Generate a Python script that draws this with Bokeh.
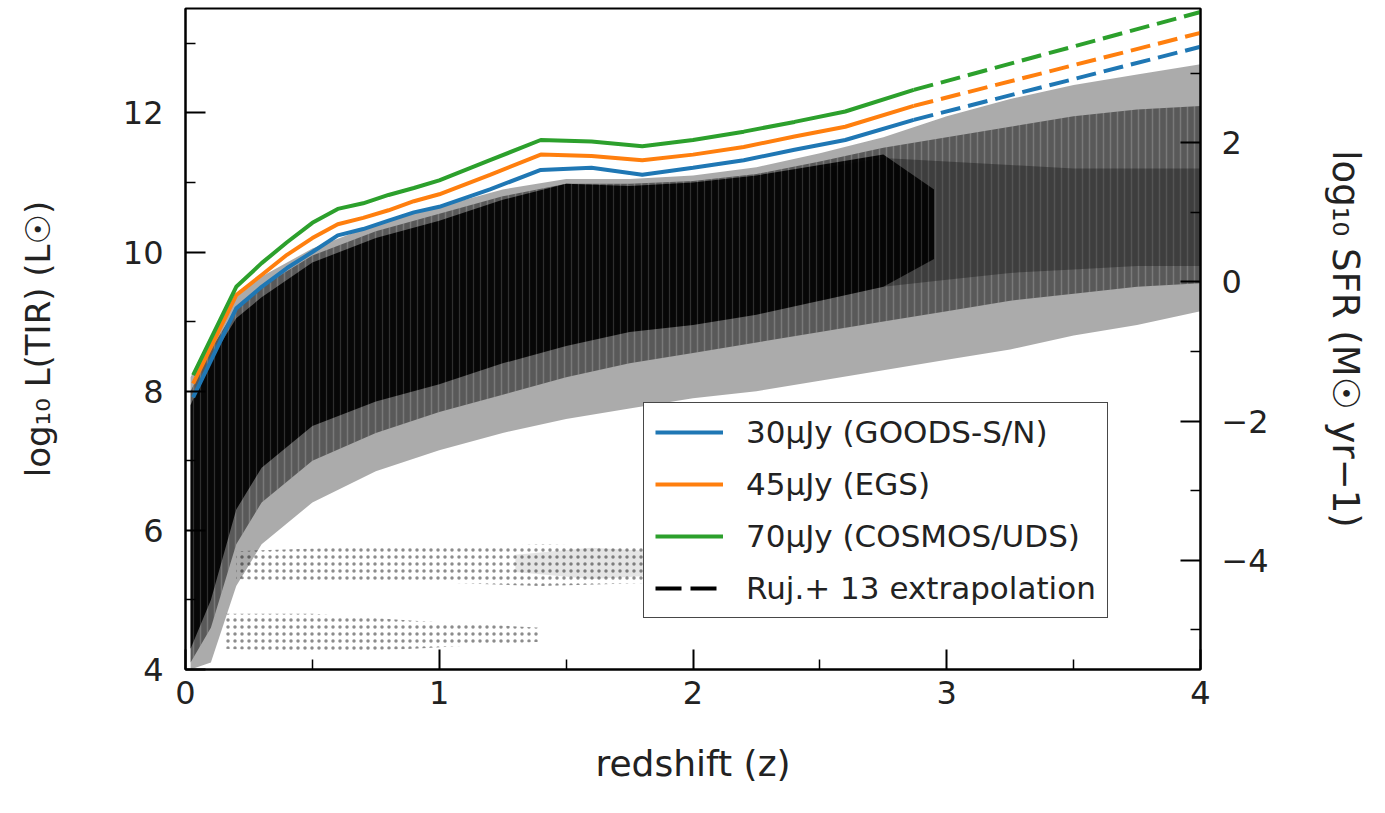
from bokeh.plotting import figure
from bokeh.models import Range1d, LinearAxis, FixedTicker, Legend, LegendItem
from bokeh.embed import file_html
from bokeh.resources import INLINE

# ---------------- data ----------------
# limiting-flux curves: redshift vs log10 L(TIR)
z_line = [0.03, 0.2, 0.3, 0.4, 0.5, 0.6, 0.7, 0.8, 0.9, 1.0, 1.2, 1.4, 1.6, 1.8, 2.0, 2.2, 2.4, 2.6, 2.87]
L_30 = [7.91, 9.19, 9.5, 9.77, 10.0, 10.24, 10.33, 10.45, 10.57, 10.65, 10.9, 11.18, 11.21, 11.11, 11.21, 11.32, 11.47, 11.61, 11.9]
L_45 = [8.11, 9.38, 9.67, 9.96, 10.2, 10.4, 10.49, 10.6, 10.73, 10.83, 11.11, 11.4, 11.38, 11.32, 11.4, 11.51, 11.66, 11.8, 12.1]
L_70 = [8.23, 9.5, 9.84, 10.14, 10.42, 10.62, 10.7, 10.82, 10.92, 11.03, 11.32, 11.61, 11.59, 11.52, 11.61, 11.73, 11.87, 12.02, 12.33]

# Rujopakarn+13 extrapolation
z_ext = [2.87, 4.0]
L_30_ext = [11.9, 12.95]
L_45_ext = [12.1, 13.15]
L_70_ext = [12.33, 13.45]

labels = ["30μJy (GOODS-S/N)", "45μJy (EGS)", "70μJy (COSMOS/UDS)", "Ruj.+ 13 extrapolation"]
colors = ["#1f77b4", "#ff7f0e", "#2ca02c", "black"]

# galaxy cloud density envelopes (log10 L(TIR) bounds per redshift)
z_grid = [0.02, 0.1, 0.2, 0.3, 0.5, 0.75, 1.0, 1.25, 1.5, 1.75, 2.0, 2.25, 2.5, 2.75, 3.0, 3.25, 3.5, 3.75, 4.0]
halo_lo = [4.0, 4.1, 5.2, 5.8, 6.4, 6.85, 7.15, 7.4, 7.6, 7.75, 7.9, 8.0, 8.15, 8.3, 8.45, 8.6, 8.8, 8.95, 9.15]
halo_hi = [8.2, 8.8, 9.35, 9.65, 10.05, 10.4, 10.65, 10.9, 11.05, 11.05, 11.1, 11.22, 11.42, 11.65, 11.95, 12.2, 12.4, 12.55, 12.7]
mid_lo = [4.1, 4.6, 5.8, 6.4, 7.0, 7.4, 7.7, 7.95, 8.2, 8.4, 8.55, 8.7, 8.85, 9.0, 9.15, 9.3, 9.4, 9.5, 9.55]
mid_hi = [8.0, 8.6, 9.2, 9.5, 9.95, 10.3, 10.55, 10.8, 10.98, 10.98, 11.02, 11.12, 11.3, 11.5, 11.65, 11.8, 11.95, 12.05, 12.1]
z_core = [0.02, 0.1, 0.2, 0.3, 0.5, 0.75, 1.0, 1.25, 1.5, 1.75, 2.0, 2.25, 2.5, 2.75, 2.95]
core_lo = [4.3, 5.0, 6.3, 6.9, 7.5, 7.85, 8.1, 8.4, 8.65, 8.85, 8.95, 9.1, 9.3, 9.5, 9.9]
core_hi = [7.8, 8.45, 9.05, 9.35, 9.85, 10.2, 10.45, 10.75, 10.98, 10.95, 11.0, 11.1, 11.25, 11.4, 10.9]
z_deep = [2.5, 2.75, 3.0, 3.25, 3.5, 3.75, 4.0]
deep_lo = [9.3, 9.5, 9.6, 9.7, 9.75, 9.8, 9.8]
deep_hi = [11.2, 11.35, 11.3, 11.25, 11.2, 11.2, 11.2]

# sparse populations
z_band1 = [0.2, 0.6, 1.0, 1.4, 1.9]
band1_lo = [5.3, 5.25, 5.25, 5.2, 5.25]
band1_hi = [5.7, 5.75, 5.75, 5.8, 5.75]
z_band1d = [1.3, 1.6, 1.85]
band1d_lo = [5.4, 5.3, 5.35]
band1d_hi = [5.65, 5.75, 5.7]
z_band2 = [0.15, 0.5, 0.9, 1.4]
band2_lo = [4.3, 4.25, 4.3, 4.4]
band2_hi = [4.8, 4.8, 4.7, 4.6]

SFR_OFFSET = 9.57  # log10 SFR = log10 L(TIR) - offset

# ---------------- figure ----------------
FONT = "DejaVu Sans"
p = figure(width=1369, height=797, x_range=Range1d(0, 4), y_range=Range1d(4, 13.5),
           output_backend="svg", toolbar_location=None,
           min_border_left=185, min_border_right=165, min_border_top=8, min_border_bottom=128)
p.grid.visible = False
p.outline_line_color = "black"
p.outline_line_width = 2
p.background_fill_color = "white"

# cloud
p.varea(x=z_band2, y1=band2_lo, y2=band2_hi, fill_alpha=0,
        hatch_pattern="dot", hatch_color="black", hatch_alpha=0.45, hatch_scale=7, hatch_weight=1.6)
p.varea(x=z_band1, y1=band1_lo, y2=band1_hi, fill_alpha=0,
        hatch_pattern="dot", hatch_color="black", hatch_alpha=0.45, hatch_scale=7, hatch_weight=1.6)
p.varea(x=z_band1d, y1=band1d_lo, y2=band1d_hi, fill_color="black", fill_alpha=0.1)
p.varea(x=z_grid, y1=halo_lo, y2=halo_hi, fill_color="black", fill_alpha=0.33)
p.varea(x=z_grid, y1=mid_lo, y2=mid_hi, fill_color="black", fill_alpha=0.48,
        hatch_pattern="vertical_line", hatch_color="white", hatch_alpha=0.2,
        hatch_scale=7, hatch_weight=1.5)
p.varea(x=z_deep, y1=deep_lo, y2=deep_hi, fill_color="black", fill_alpha=0.3)
p.varea(x=z_core, y1=core_lo, y2=core_hi, fill_color="black", fill_alpha=0.92,
        hatch_pattern="vertical_line", hatch_color="white", hatch_alpha=0.15,
        hatch_scale=7, hatch_weight=1.2)

# curves
rs = []
for Ls, Le, c in zip([L_30, L_45, L_70], [L_30_ext, L_45_ext, L_70_ext], colors[:3]):
    r = p.line(z_line, Ls, line_color=c, line_width=4)
    p.line(z_ext, Le, line_color=c, line_width=4, line_dash="20 8")
    rs.append(r)
r_dash = p.line(x=[float("nan")], y=[float("nan")], line_color="black", line_width=4, line_dash="26 9")
rs.append(r_dash)

legend = Legend(items=[LegendItem(label=l, renderers=[r]) for l, r in zip(labels, rs)],
                location=(458, 51), padding=11, spacing=16, glyph_width=68, glyph_height=30,
                label_height=30, label_standoff=23, margin=0,
                label_text_font=FONT, label_text_font_size="31px", label_text_color="#222222",
                border_line_color="#333333", border_line_width=1.5, border_line_alpha=0.9,
                background_fill_color="white", background_fill_alpha=1.0)
p.add_layout(legend)

# axes
def style_axis(ax, standoff, label_standoff, label_size):
    ax.axis_line_width = 2
    ax.major_tick_in = 20
    ax.major_tick_out = 0
    ax.minor_tick_in = 10
    ax.minor_tick_out = 0
    ax.major_tick_line_width = 2
    ax.minor_tick_line_width = 1.5
    ax.major_label_text_font = FONT
    ax.major_label_text_font_size = "32px"
    ax.major_label_text_color = "#222222"
    ax.major_label_standoff = standoff
    ax.axis_label_text_font = FONT
    ax.axis_label_text_font_size = label_size
    ax.axis_label_text_font_style = "normal"
    ax.axis_label_text_color = "#222222"
    ax.axis_label_standoff = label_standoff

xa = p.xaxis[0]
xa.ticker = FixedTicker(ticks=[0, 1, 2, 3, 4], minor_ticks=[0.5, 1.5, 2.5, 3.5])
xa.axis_label = "redshift (z)"
style_axis(xa, 11, 36, "36px")

ya = p.yaxis[0]
ya.ticker = FixedTicker(ticks=[4, 6, 8, 10, 12], minor_ticks=[5, 7, 9, 11, 13])
ya.axis_label = "log₁₀ L(TIR) (L☉)"
style_axis(ya, 22, 62, "34px")

p.extra_y_ranges = {"sfr": Range1d(4 - SFR_OFFSET, 13.5 - SFR_OFFSET)}
ra = LinearAxis(y_range_name="sfr")
ra.ticker = FixedTicker(ticks=[-4, -2, 0, 2], minor_ticks=[-5, -3, -1, 1, 3])
ra.major_label_overrides = {-4: "−4", -2: "−2"}
ra.axis_label = "log₁₀ SFR (M☉ yr−1)"
style_axis(ra, 21, 52, "37px")
p.add_layout(ra, "right")

open("out.html", "w").write(file_html(p, INLINE))
